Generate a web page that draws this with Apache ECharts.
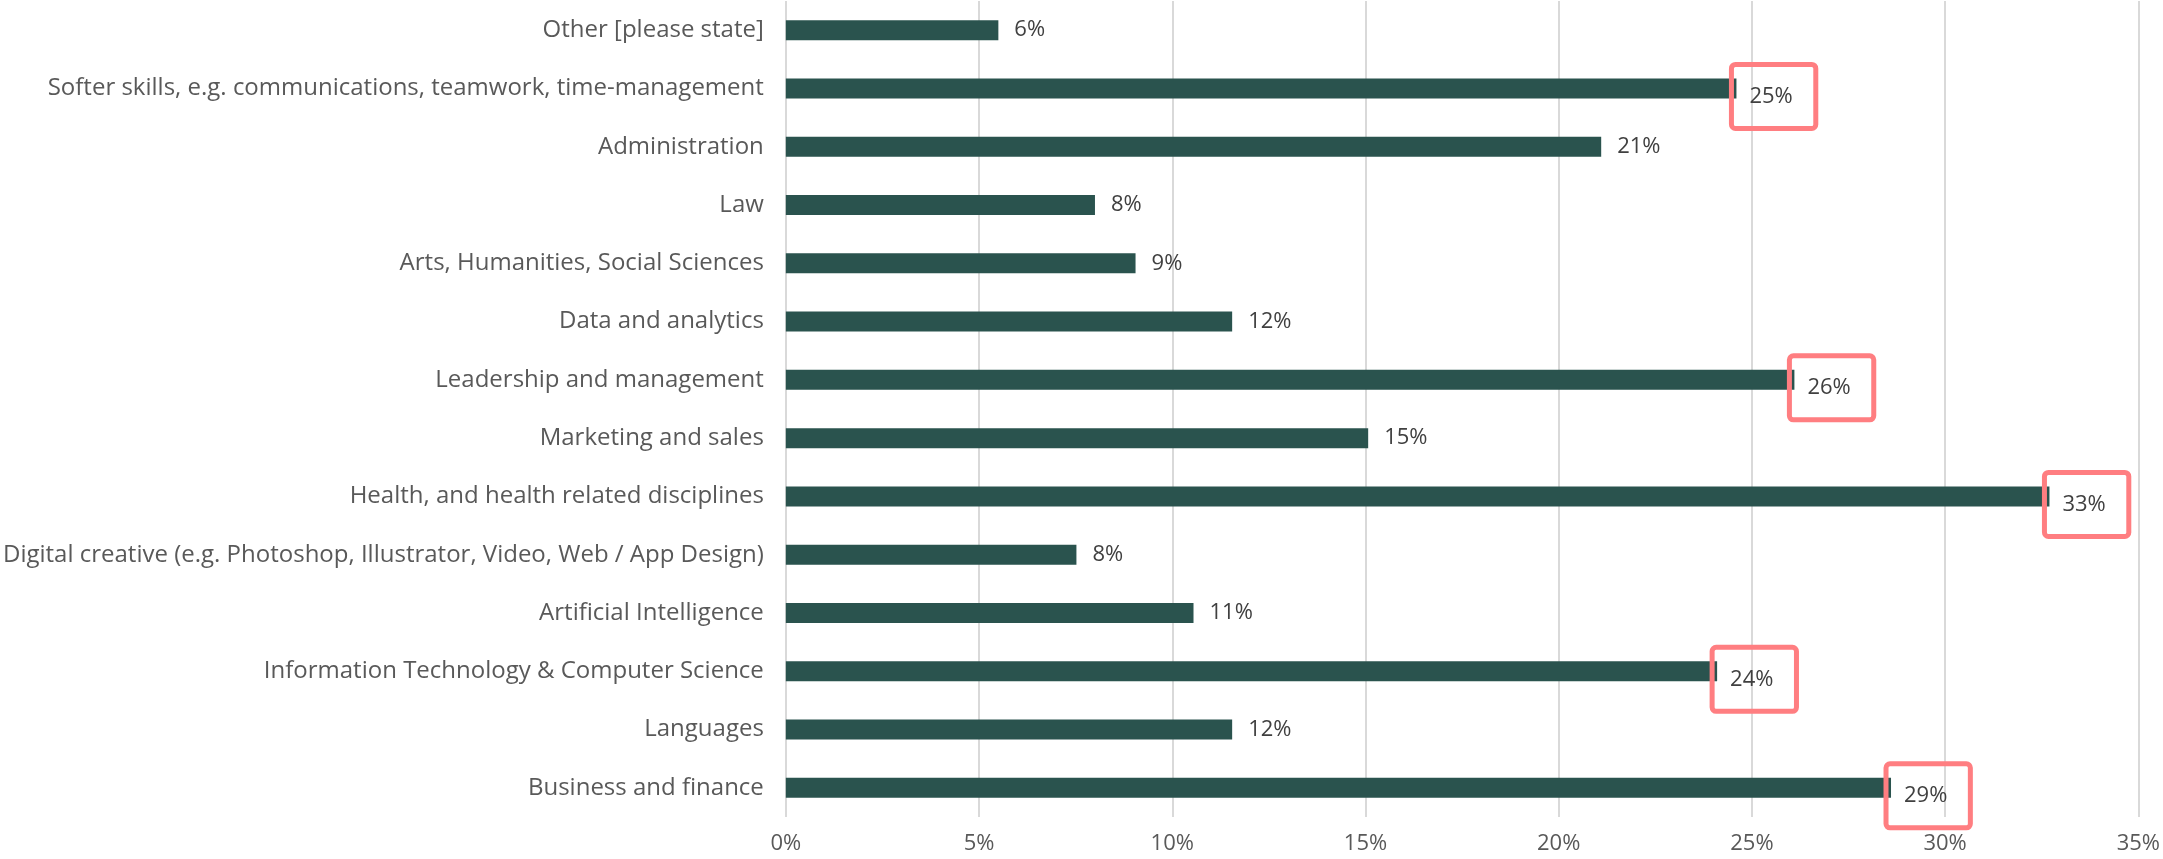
<!DOCTYPE html>
<html>
<head>
<meta charset="utf-8">
<script src="https://cdn.jsdelivr.net/npm/echarts@6/dist/echarts.min.js"></script>
<style>
html, body { margin: 0; padding: 0; background: #ffffff; }
#chart { width: 2163px; height: 859px; }
</style>
</head>
<body>
<div id="chart"></div>
<script>
// categories top to bottom
const categories = [
    'Other [please state]',
    'Softer skills, e.g. communications, teamwork, time-management',
    'Administration',
    'Law',
    'Arts, Humanities, Social Sciences',
    'Data and analytics',
    'Leadership and management',
    'Marketing and sales',
    'Health, and health related disciplines',
    'Digital creative (e.g. Photoshop, Illustrator, Video, Web / App Design)',
    'Artificial Intelligence',
    'Information Technology & Computer Science',
    'Languages',
    'Business and finance'
]
// share of respondents, %
const values = [5.5, 24.6, 21.1, 8.0, 9.05, 11.55, 26.1, 15.07, 32.7, 7.52, 10.55, 24.1, 11.55, 28.6]
// labels circled in red
const highlighted = [
    'Softer skills, e.g. communications, teamwork, time-management',
    'Leadership and management',
    'Health, and health related disciplines',
    'Information Technology & Computer Science',
    'Business and finance'
]
const xTicks = { min: 0, max: 35, interval: 5 }

const FONT = '"Open Sans", Lato, sans-serif'

const seriesData = values.map((v, i) => {
    const item = { value: v }
    if (highlighted.indexOf(categories[i]) !== -1) {
        item.label = {
            borderColor: '#ff7e81',
            borderWidth: 5,
            borderRadius: 4,
            padding: [15, 23, 27, 18],
            distance: -5,
            offset: [0, 8]
        }
    }
    return item
})

const myChart = echarts.init(document.getElementById('chart'))
const option = {
    animation: false,
    grid: {
        left: 785,
        right: 23,
        top: 1,
        bottom: 42,
        containLabel: false
    },
    xAxis: {
        type: 'value',
        min: xTicks.min,
        max: xTicks.max,
        interval: xTicks.interval,
        axisLine: { show: false },
        axisTick: { show: false },
        axisLabel: {
            formatter: '{value}%',
            color: '#595959',
            fontFamily: FONT,
            fontSize: 22,
            margin: 16
        },
        splitLine: {
            show: true,
            lineStyle: { color: '#d9d9d9', width: 2 }
        }
    },
    yAxis: {
        type: 'category',
        data: categories,
        inverse: true,
        axisLine: { show: false },
        axisTick: { show: false },
        axisLabel: {
            color: '#595959',
            fontFamily: FONT,
            fontSize: 24,
            margin: 22
        }
    },
    series: [{
        type: 'bar',
        data: seriesData,
        barWidth: 20,
        itemStyle: { color: '#2a534e' },
        label: {
            show: true,
            position: 'right',
            distance: 16,
            color: '#404040',
            fontFamily: FONT,
            fontSize: 22,
            formatter: p => Math.round(p.value) + '%'
        }
    }]
}
myChart.setOption(option)
</script>
</body>
</html>
